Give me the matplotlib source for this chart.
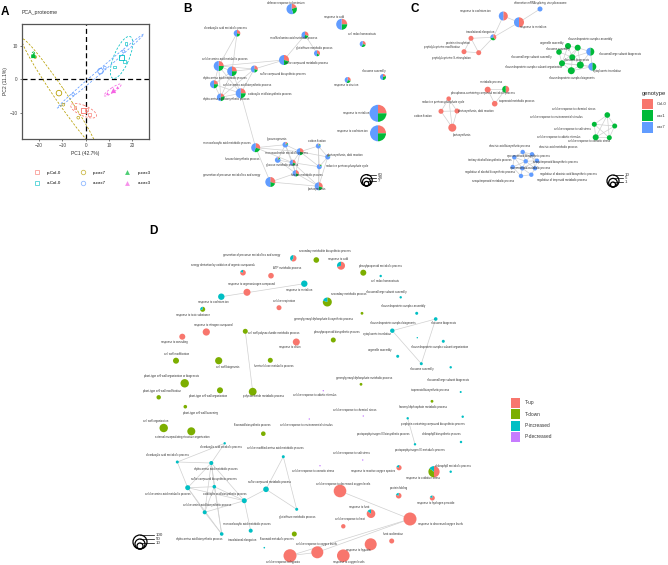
import numpy as np
import matplotlib
matplotlib.use("Agg")
import matplotlib.pyplot as plt
from matplotlib.patches import Wedge, Circle, Ellipse, Rectangle
from matplotlib.lines import Line2D

plt.rcParams["font.family"] = ["Liberation Sans", "DejaVu Sans"]

# ---------------- data ----------------
# Panel A: PCA scores (PC1, PC2) per sample group
pca_groups = ["p-Col-0", "a-Col-0", "p-cax7", "a-cax7", "p-cax3", "a-cax3"]
pca_pc1 = {
    "p-Col-0": [-4.6, 0.4, 1.5],
    "a-Col-0": [12.3, 16.5, 17.3],
    "p-cax7": [-21.7, -9.6, -3.2],
    "a-cax7": [-5.4, 8.2, 16.2],
    "p-cax3": [-22.6, -22.2, -22.9],
    "a-cax3": [9.3, 11.8, 13.6],
}
pca_pc2 = {
    "p-Col-0": [-8.5, -9.1, -10.6],
    "a-Col-0": [3.7, 5.3, 10.7],
    "p-cax7": [6.7, -7.6, -11.5],
    "a-cax7": [-4.5, 3.5, 8.4],
    "p-cax3": [7.6, 7.2, 7.4],
    "a-cax3": [-4.2, -3.2, -2.2],
}
pca_colors = {"p-Col-0": "#F8766D", "p-cax7": "#B79F00", "p-cax3": "#00BA38",
              "a-Col-0": "#00BFC4", "a-cax7": "#619CFF", "a-cax3": "#F564E3"}
pca_marker = {"p-Col-0": "s", "a-Col-0": "s", "p-cax7": "o", "a-cax7": "o",
              "p-cax3": "^", "a-cax3": "^"}
pca_xticks = [-20, -10, 0, 10, 20]
pca_yticks = [-10, 0, 10]

# Panel B network: name, x, y, size, (Col-0, cax1, cax7) fractions, label x, label y
geno_names = ["Col-0", "cax1", "cax7"]
geno_colors = ["#F8766D", "#00BA38", "#619CFF"]
B_nodes = [
    ("defense response to bacterium", 291.7, 9.0, 5.2, (.20, .25, .55), 285.7, 2.7),
    ("response to cold", 341.7, 24.3, 5.5, (.25, .25, .50), 333.7, 16.7),
    ("cell redox homeostasis", 362.7, 44.0, 3.0, (.30, .25, .45), 361.7, 34.3),
    ("dicarboxylic acid metabolic process", 237.0, 33.3, 3.3, (.30, .20, .50), 225.0, 28.3),
    ("modified amino acid metabolic process", 305.0, 35.0, 3.5, (.30, .20, .50), 293.3, 37.7),
    ("glutathione metabolic process", 317.0, 53.3, 3.0, (.35, .15, .50), 314.0, 48.3),
    ("sulfur compound metabolic process", 284.0, 60.0, 5.0, (.30, .20, .50), 306.7, 63.3),
    ("cellular amino acid metabolic process", 218.7, 66.0, 5.0, (.25, .25, .50), 225.0, 59.3),
    ("alpha-amino acid metabolic process", 232.0, 71.3, 4.8, (.25, .25, .50), 225.0, 77.7),
    ("sulfur compound biosynthetic process", 254.3, 69.0, 3.5, (.30, .20, .50), 283.3, 74.0),
    ("cellular amino acid biosynthetic process", 214.0, 84.3, 4.0, (.25, .25, .50), 246.7, 85.3),
    ("carboxylic acid biosynthetic process", 240.7, 93.3, 5.0, (.25, .25, .50), 270.0, 93.7),
    ("alpha-amino acid biosynthetic process", 220.7, 97.3, 3.8, (.20, .30, .50), 226.0, 98.7),
    ("response to zinc ion", 347.7, 80.0, 3.0, (.30, .25, .45), 345.7, 85.0),
    ("ribosome assembly", 383.0, 77.0, 3.0, (.20, .30, .50), 374.0, 70.7),
    ("response to metal ion", 378.0, 113.3, 8.5, (.25, .25, .50), 356.0, 112.7),
    ("response to cadmium ion", 378.0, 133.3, 8.0, (.25, .25, .50), 352.0, 131.3),
    ("monocarboxylic acid metabolic process", 255.7, 147.7, 4.5, (.30, .25, .45), 226.7, 143.3),
    ("gluconeogenesis", 285.3, 144.7, 2.8, (.15, .10, .75), 277.3, 139.0),
    ("carbon fixation", 318.3, 146.0, 2.5, (.10, .10, .80), 316.7, 140.7),
    ("monosaccharide metabolic process", 300.0, 151.7, 3.5, (.30, .20, .50), 286.7, 153.3),
    ("photosynthesis, dark reaction", 327.7, 157.0, 2.5, (.10, .10, .80), 345.0, 155.3),
    ("hexose biosynthetic process", 277.7, 160.0, 2.8, (.10, .10, .80), 241.7, 159.3),
    ("glucose metabolic process", 292.7, 162.7, 3.0, (.30, .20, .50), 281.7, 165.0),
    ("reductive pentose-phosphate cycle", 319.3, 166.7, 2.5, (.10, .10, .80), 346.7, 165.7),
    ("hexose metabolic process", 295.7, 173.3, 3.2, (.30, .20, .50), 306.7, 175.0),
    ("generation of precursor metabolites and energy", 270.3, 182.0, 5.0, (.30, .20, .50), 231.7, 175.0),
    ("photosynthesis", 318.7, 186.3, 4.0, (.30, .20, .50), 317.3, 189.3),
]
B_edges = [(3, 8), (3, 7), (4, 5), (4, 6), (6, 9), (6, 7), (7, 8), (7, 9), (7, 10), (7, 11),
           (7, 12), (8, 9), (8, 10), (8, 11), (8, 12), (9, 11), (10, 11), (10, 12), (11, 12),
           (9, 12), (11, 17), (17, 18), (17, 20), (17, 23), (17, 26), (18, 20), (18, 23),
           (18, 22), (18, 25), (19, 21), (19, 24), (19, 27), (20, 21), (20, 23), (20, 24),
           (20, 25), (21, 24), (21, 27), (22, 23), (22, 25), (23, 25), (23, 24), (25, 26),
           (25, 27), (26, 27), (24, 27), (23, 27), (19, 20)]
B_size_labels = ["60", "28", "7"]

# Panel C network
C_nodes = [
    ("alternative mRNA splicing, via spliceosome", 540.0, 9.0, 2.5, (0, 0, 1), 540.0, 3.3),
    ("response to cadmium ion", 503.3, 16.0, 4.5, (.5, 0, .5), 475.7, 11.0),
    ("response to metal ion", 519.0, 22.3, 5.0, (.5, 0, .5), 533.3, 26.7),
    ("translational elongation", 493.3, 37.3, 3.0, (.4, .3, .3), 480.0, 32.0),
    ("protein nitrosylation", 471.0, 38.3, 2.5, (1, 0, 0), 458.3, 42.7),
    ("peptidyl-cysteine modification", 464.0, 51.7, 2.5, (1, 0, 0), 441.7, 46.7),
    ("peptidyl-cysteine S-nitrosylation", 478.7, 52.7, 2.5, (1, 0, 0), 451.7, 58.3),
    ("ribonucleoprotein complex assembly", 577.7, 47.7, 3.0, (0, 1, 0), 590.0, 39.0),
    ("organelle assembly", 568.0, 46.0, 3.0, (0, 1, 0), 551.7, 42.7),
    ("ribosome assembly", 559.0, 52.0, 2.8, (0, 1, 0), 558.3, 49.3),
    ("ribosomal large subunit biogenesis", 590.3, 51.7, 4.0, (0, .5, .5), 620.0, 54.0),
    ("ribosomal large subunit assembly", 572.3, 57.3, 3.0, (0, 1, 0), 531.7, 56.7),
    ("ribosome biogenesis", 562.0, 63.3, 3.0, (0, 1, 0), 576.7, 60.0),
    ("ribonucleoprotein complex biogenesis", 580.3, 65.0, 3.5, (0, 1, 0), 571.7, 77.7),
    ("cytoplasmic translation", 592.3, 66.7, 4.0, (0, .5, .5), 606.7, 71.3),
    ("ribonucleoprotein complex subunit organization", 571.3, 70.7, 3.5, (0, 1, 0), 533.3, 66.7),
    ("metabolic process", 487.7, 89.7, 3.0, (1, 0, 0), 491.0, 81.7),
    ("phosphorus-containing compound metabolic process", 505.7, 89.3, 3.5, (.5, .5, 0), 483.3, 93.3),
    ("isoprenoid metabolic process", 494.7, 103.7, 2.8, (1, 0, 0), 516.7, 101.3),
    ("reductive pentose-phosphate cycle", 448.7, 98.7, 2.3, (1, 0, 0), 442.7, 102.3),
    ("carbon fixation", 441.0, 111.3, 2.5, (1, 0, 0), 423.3, 116.0),
    ("photosynthesis, dark reaction", 457.0, 111.0, 2.5, (1, 0, 0), 475.7, 111.0),
    ("photosynthesis", 452.3, 127.7, 4.0, (1, 0, 0), 462.3, 134.7),
    ("cellular response to chemical stress", 607.3, 115.0, 2.8, (0, 1, 0), 573.3, 108.7),
    ("cellular response to environmental stimulus", 594.3, 124.3, 2.5, (0, 1, 0), 556.7, 117.3),
    ("cellular response to salt stress", 614.7, 126.0, 2.5, (0, 1, 0), 572.7, 128.7),
    ("cellular response to abiotic stimulus", 595.7, 137.3, 3.0, (0, 1, 0), 558.3, 137.0),
    ("cellular response to osmotic stress", 609.3, 137.7, 2.5, (0, 1, 0), 589.3, 141.0),
    ("abscisic acid biosynthetic process", 522.7, 152.0, 2.2, (0, 0, 1), 509.3, 146.0),
    ("abscisic acid metabolic process", 532.0, 154.3, 2.2, (0, 0, 1), 558.3, 146.7),
    ("tertiary alcohol biosynthetic process", 514.3, 157.3, 2.2, (0, 0, 1), 490.0, 160.0),
    ("apocarotenoid biosynthetic process", 525.7, 161.3, 2.2, (0, 0, 1), 528.3, 156.0),
    ("sesquiterpenoid biosynthetic process", 537.0, 160.7, 2.2, (0, 0, 1), 555.0, 162.3),
    ("regulation of alcohol biosynthetic process", 512.7, 167.0, 2.2, (0, 0, 1), 490.0, 171.7),
    ("apocarotenoid metabolic process", 522.3, 168.3, 2.2, (0, 0, 1), 530.0, 167.7),
    ("regulation of abscisic acid biosynthetic process", 535.0, 168.3, 2.2, (0, 0, 1), 568.3, 174.0),
    ("sesquiterpenoid metabolic process", 521.0, 176.0, 2.2, (0, 0, 1), 493.3, 181.0),
    ("regulation of terpenoid metabolic process", 531.3, 174.7, 2.2, (0, 0, 1), 561.7, 180.0),
]
C_edges = [(0, 2), (1, 2), (1, 3), (2, 3), (3, 4), (3, 6), (4, 5), (4, 6), (5, 6),
           (7, 8), (7, 10), (7, 11), (7, 12), (7, 13), (8, 9), (8, 11), (8, 12), (9, 11),
           (9, 12), (10, 11), (10, 13), (10, 14), (11, 12), (11, 13), (11, 15), (12, 13),
           (12, 15), (13, 14), (13, 15), (14, 15), (12, 14),
           (16, 17), (16, 18), (17, 18), (19, 20), (19, 21), (19, 22), (20, 21), (20, 22), (21, 22),
           (23, 24), (23, 25), (23, 26), (23, 27), (24, 25), (24, 26), (24, 27), (25, 26),
           (25, 27), (26, 27),
           (28, 29), (28, 30), (28, 31), (28, 32), (29, 31), (29, 32), (30, 31), (30, 33),
           (30, 34), (31, 32), (31, 34), (31, 35), (32, 35), (33, 34), (33, 36), (34, 35),
           (34, 36), (34, 37), (35, 37), (36, 37), (31, 33), (32, 34), (29, 35)]
C_size_labels = ["10", "5", "1"]

# Panel D network: fractions (T-up, T-down, P-increased, P-decreased)
reg_names = ["T-up", "T-down", "P-increased", "P-decreased"]
reg_colors = ["#F8766D", "#7CAE00", "#00BFC4", "#C77CFF"]
UP, DN, INC, DEC = (1, 0, 0, 0), (0, 1, 0, 0), (0, 0, 1, 0), (0, 0, 0, 1)
D_nodes = [
    ("energy derivation by oxidation of organic compounds", 243.0, 272.7, 2.8, (.8, 0, .2, 0), 223.3, 265.0),
    ("ATP metabolic process", 271.0, 275.7, 2.8, UP, 286.7, 267.7),
    ("generation of precursor metabolites and energy", 293.3, 258.3, 3.2, (.6, 0, .4, 0), 251.7, 255.0),
    ("secondary metabolite biosynthetic process", 316.3, 260.0, 2.8, DN, 325.0, 251.0),
    ("response to cold", 341.0, 265.7, 4.0, (.7, 0, .3, 0), 338.3, 259.0),
    ("response to organonitrogen compound", 247.0, 292.3, 3.5, UP, 251.7, 284.3),
    ("response to cadmium ion", 221.3, 296.7, 3.2, INC, 213.3, 302.3),
    ("response to metal ion", 304.3, 283.7, 3.2, INC, 299.3, 290.0),
    ("response to toxic substance", 202.7, 309.3, 2.5, (0, .7, .3, 0), 193.3, 315.0),
    ("cellular respiration", 279.0, 307.7, 2.5, UP, 284.0, 301.0),
    ("response to nitrogen compound", 206.3, 332.0, 3.6, UP, 213.3, 324.7),
    ("response to wounding", 182.3, 336.7, 3.0, UP, 174.0, 342.3),
    ("response to chitin", 296.3, 342.0, 3.5, UP, 290.0, 347.3),
    ("cell wall polysaccharide metabolic process", 245.3, 331.3, 2.5, DN, 273.3, 333.3),
    ("cell wall modification", 176.0, 360.7, 3.0, DN, 176.7, 353.7),
    ("cell wall biogenesis", 218.7, 360.7, 3.6, DN, 227.7, 367.0),
    ("hemicellulose metabolic process", 270.3, 360.3, 2.5, DN, 273.3, 366.3),
    ("plant-type cell wall organization or biogenesis", 184.7, 383.3, 4.2, DN, 171.7, 376.0),
    ("plant-type cell wall modification", 158.7, 397.3, 2.2, DN, 161.7, 390.7),
    ("plant-type cell wall organization", 220.0, 390.3, 3.0, DN, 208.3, 396.0),
    ("polysaccharide metabolic process", 252.7, 391.7, 3.9, DN, 263.3, 396.0),
    ("plant-type cell wall loosening", 185.3, 406.7, 1.8, DN, 200.0, 412.7),
    ("cell wall organization", 163.7, 428.0, 4.2, DN, 156.0, 420.7),
    ("external encapsulating structure organization", 191.3, 431.3, 4.0, DN, 182.7, 437.0),
    ("flavonoid biosynthetic process", 263.3, 433.7, 2.3, DN, 252.7, 425.0),
    ("secondary metabolic process", 327.3, 302.0, 4.5, (0, .8, .2, 0), 348.3, 294.3),
    ("phenylpropanoid metabolic process", 363.3, 272.7, 3.0, DN, 380.0, 266.0),
    ("phenylpropanoid biosynthetic process", 333.3, 340.0, 2.5, DN, 337.3, 332.0),
    ("geranylgeranyl diphosphate biosynthetic process", 362.0, 313.3, 1.4, DN, 323.3, 319.3),
    ("geranylgeranyl diphosphate metabolic process", 361.0, 384.3, 1.4, DN, 364.3, 377.7),
    ("farnesyl diphosphate metabolic process", 432.0, 401.3, 1.4, DN, 423.3, 406.7),
    ("flavonoid metabolic process", 294.3, 534.0, 2.5, DN, 276.7, 539.3),
    ("cell redox homeostasis", 380.7, 276.0, 1.2, INC, 385.0, 281.0),
    ("ribosomal large subunit assembly", 400.7, 297.3, 1.2, INC, 386.7, 291.7),
    ("ribonucleoprotein complex assembly", 416.7, 313.3, 1.5, INC, 403.3, 306.0),
    ("ribosome biogenesis", 435.7, 319.0, 1.8, INC, 443.3, 323.0),
    ("cytoplasmic translation", 392.3, 330.7, 2.2, INC, 376.7, 333.7),
    ("ribonucleoprotein complex biogenesis", 417.3, 337.7, 0.7, INC, 393.3, 322.7),
    ("ribonucleoprotein complex subunit organization", 443.3, 341.3, 1.5, INC, 440.0, 347.3),
    ("organelle assembly", 397.7, 356.3, 1.5, INC, 380.0, 350.0),
    ("ribosome assembly", 421.3, 363.7, 1.5, INC, 421.7, 369.0),
    ("ribosomal large subunit biogenesis", 450.7, 367.3, 1.2, INC, 448.3, 379.7),
    ("isoprenoid biosynthetic process", 460.7, 392.0, 1.0, INC, 430.0, 389.7),
    ("cellular response to abiotic stimulus", 323.3, 390.7, 0.7, DEC, 315.0, 395.3),
    ("cellular response to chemical stress", 363.3, 416.0, 0.7, DEC, 355.0, 410.0),
    ("cellular response to environmental stimulus", 309.3, 419.0, 0.7, DEC, 306.7, 425.0),
    ("cellular response to osmotic stress", 320.0, 465.7, 0.7, DEC, 312.7, 471.0),
    ("cellular response to salt stress", 362.7, 460.0, 0.7, DEC, 351.7, 452.7),
    ("porphyrin-containing compound biosynthetic process", 407.7, 418.3, 1.2, INC, 433.3, 424.0),
    ("protoporphyrinogen IX metabolic process", 415.0, 444.3, 1.2, INC, 420.0, 450.0),
    ("protoporphyrinogen IX biosynthetic process", 462.7, 416.7, 1.2, INC, 383.3, 434.0),
    ("chlorophyll biosynthetic process", 461.0, 442.0, 1.2, INC, 441.7, 434.0),
    ("dicarboxylic acid catabolic process", 224.7, 443.3, 1.2, INC, 221.0, 447.3),
    ("dicarboxylic acid metabolic process", 177.3, 462.0, 1.5, INC, 167.3, 455.0),
    ("alpha-amino acid metabolic process", 211.3, 463.0, 2.0, INC, 215.7, 469.3),
    ("cellular amino acid metabolic process", 187.7, 487.7, 2.5, INC, 167.7, 493.7),
    ("carboxylic acid biosynthetic process", 214.3, 486.7, 1.8, INC, 224.7, 493.7),
    ("sulfur compound biosynthetic process", 244.3, 500.7, 2.5, INC, 214.0, 479.3),
    ("sulfur compound metabolic process", 266.0, 489.3, 2.8, INC, 270.0, 481.7),
    ("cellular modified amino acid metabolic process", 283.3, 456.7, 1.5, INC, 275.0, 448.3),
    ("cellular amino acid biosynthetic process", 204.7, 512.3, 2.0, INC, 207.3, 505.3),
    ("alpha-amino acid biosynthetic process", 221.7, 534.0, 1.8, INC, 199.0, 539.3),
    ("monocarboxylic acid metabolic process", 250.7, 530.7, 2.0, INC, 247.3, 524.0),
    ("translational elongation", 264.3, 547.7, 0.8, INC, 242.0, 540.0),
    ("glutathione metabolic process", 296.7, 509.3, 1.5, INC, 296.7, 516.7),
    ("response to reactive oxygen species", 399.0, 467.7, 2.6, (.8, 0, .2, 0), 373.3, 471.0),
    ("response to oxidative stress", 434.0, 471.7, 5.6, (.5, .35, .15, 0), 422.7, 478.3),
    ("chlorophyll metabolic process", 450.7, 471.7, 1.2, INC, 453.3, 465.7),
    ("cellular response to decreased oxygen levels", 340.0, 491.0, 6.3, UP, 343.3, 484.3),
    ("protein folding", 398.7, 495.7, 2.8, (.8, 0, .2, 0), 399.0, 488.0),
    ("response to hydrogen peroxide", 432.3, 498.0, 2.5, (.8, 0, .2, 0), 436.0, 503.3),
    ("response to heat", 371.0, 513.7, 4.3, (.85, 0, .15, 0), 359.0, 506.7),
    ("response to decreased oxygen levels", 410.0, 519.0, 6.5, UP, 440.0, 523.7),
    ("cellular response to heat", 343.3, 526.3, 2.2, UP, 350.0, 519.3),
    ("heat acclimation", 391.7, 541.0, 2.5, UP, 392.7, 534.0),
    ("cellular response to oxygen levels", 317.3, 552.3, 6.0, UP, 316.7, 544.3),
    ("response to hypoxia", 370.7, 544.3, 6.0, UP, 357.7, 550.3),
    ("cellular response to hypoxia", 290.0, 555.7, 6.5, UP, 283.0, 562.0),
    ("response to oxygen levels", 343.3, 555.7, 6.3, UP, 348.3, 562.3),
]
D_edges = [
    ("response to cadmium ion", "response to metal ion"),
    ("cell wall polysaccharide metabolic process", "polysaccharide metabolic process"),
    ("cytoplasmic translation", "ribosome biogenesis"),
    ("ribosome biogenesis", "ribosome assembly"),
    ("cytoplasmic translation", "ribosome assembly"),
    ("porphyrin-containing compound biosynthetic process", "protoporphyrinogen IX metabolic process"),
    ("dicarboxylic acid metabolic process", "alpha-amino acid metabolic process"),
    ("dicarboxylic acid metabolic process", "dicarboxylic acid catabolic process"),
    ("dicarboxylic acid metabolic process", "cellular amino acid metabolic process"),
    ("alpha-amino acid metabolic process", "dicarboxylic acid catabolic process"),
    ("alpha-amino acid metabolic process", "cellular amino acid metabolic process"),
    ("alpha-amino acid metabolic process", "carboxylic acid biosynthetic process"),
    ("alpha-amino acid metabolic process", "cellular amino acid biosynthetic process"),
    ("alpha-amino acid metabolic process", "sulfur compound biosynthetic process"),
    ("alpha-amino acid metabolic process", "alpha-amino acid biosynthetic process"),
    ("cellular amino acid metabolic process", "carboxylic acid biosynthetic process"),
    ("cellular amino acid metabolic process", "cellular amino acid biosynthetic process"),
    ("cellular amino acid metabolic process", "sulfur compound biosynthetic process"),
    ("cellular amino acid metabolic process", "alpha-amino acid biosynthetic process"),
    ("carboxylic acid biosynthetic process", "sulfur compound biosynthetic process"),
    ("carboxylic acid biosynthetic process", "cellular amino acid biosynthetic process"),
    ("carboxylic acid biosynthetic process", "alpha-amino acid biosynthetic process"),
    ("cellular amino acid biosynthetic process", "alpha-amino acid biosynthetic process"),
    ("sulfur compound biosynthetic process", "sulfur compound metabolic process"),
    ("sulfur compound biosynthetic process", "monocarboxylic acid metabolic process"),
    ("sulfur compound biosynthetic process", "cellular amino acid biosynthetic process"),
    ("sulfur compound metabolic process", "cellular modified amino acid metabolic process"),
    ("sulfur compound metabolic process", "glutathione metabolic process"),
    ("cellular modified amino acid metabolic process", "glutathione metabolic process"),
    ("cellular response to decreased oxygen levels", "response to decreased oxygen levels"),
    ("response to decreased oxygen levels", "cellular response to oxygen levels"),
    ("response to decreased oxygen levels", "cellular response to hypoxia"),
    ("cellular response to hypoxia", "cellular response to oxygen levels"),
]
D_size_labels = ["100", "50", "10"]

# ---------------- drawing ----------------
W, H = 668, 565
fig = plt.figure(figsize=(6.68, 5.65), dpi=100)
fig.patch.set_facecolor("white")
net = fig.add_axes([0, 0, 1, 1])
net.set_xlim(0, W)
net.set_ylim(H, 0)
net.axis("off")

LBL = 2.0
EDGE = "#d0d0d0"


def pie(ax, x, y, r, fracs, colors):
    tot = float(sum(fracs))
    start = 270.0
    for f, c in zip(fracs, colors):
        if f <= 0:
            continue
        ang = 360.0 * f / tot
        if ang >= 359.9:
            ax.add_patch(Circle((x, y), r, facecolor=c, edgecolor="none", zorder=3))
        else:
            ax.add_patch(Wedge((x, y), r, start, start + ang, facecolor=c,
                               edgecolor="none", zorder=3))
        start += ang


def draw_network(ax, nodes, edges, colors, by_name=False):
    idx = {n[0]: i for i, n in enumerate(nodes)}
    for a, b in edges:
        ia, ib = (idx[a], idx[b]) if by_name else (a, b)
        ax.plot([nodes[ia][1], nodes[ib][1]], [nodes[ia][2], nodes[ib][2]],
                color=EDGE, lw=0.5, zorder=1, solid_capstyle="round")
    for name, x, y, r, fr, lx, ly in nodes:
        pie(ax, x, y, r, fr, colors)
        ax.text(lx, ly, name, fontsize=LBL, ha="center", va="center",
                color="#333333", zorder=4)


def size_legend(ax, cx, bottom, radii, labels, lx):
    for r, lab in zip(radii, labels):
        ax.add_patch(Circle((cx, bottom - r), r, facecolor="none", edgecolor="black",
                            lw=0.9, zorder=3))
        top = bottom - 2 * r
        ax.plot([cx, lx - 2], [top, top], color="black", lw=0.5, zorder=3)
        ax.text(lx, top, lab, fontsize=3.2, ha="left", va="center", color="#333333")


draw_network(net, B_nodes, B_edges, geno_colors)
draw_network(net, C_nodes, C_edges, geno_colors)
draw_network(net, D_nodes, D_edges, reg_colors, by_name=True)

size_legend(net, 366.5, 186.0, [5.7, 4.0, 2.3], B_size_labels, 378)
size_legend(net, 613.0, 187.0, [6.0, 4.3, 2.5], C_size_labels, 625)
size_legend(net, 140.0, 549.0, [7.0, 5.0, 3.0], D_size_labels, 156)

# genotype legend (panel C)
net.text(641.5, 93.3, "genotype", fontsize=4.2, ha="left", va="center", color="#222222")
for i, (g, c) in enumerate(zip(geno_names, geno_colors)):
    yc = 104.0 + 11.7 * i
    net.add_patch(Rectangle((641.5, yc - 5.3), 11, 10.6, facecolor=c, edgecolor="none"))
    net.text(656.5, yc, g, fontsize=3.0, ha="left", va="center", color="#333333")

# regulation legend (panel D)
for i, (g, c) in enumerate(zip(reg_names, reg_colors)):
    yc = 402.5 + 11.5 * i
    net.add_patch(Rectangle((510.5, yc - 5.0), 9.5, 10.0, facecolor=c, edgecolor="none"))
    net.text(525.0, yc, g, fontsize=3.4, ha="left", va="center", color="#333333")

# panel letters
for letter, (px, py) in {"A": (5, 12), "B": (188, 9), "C": (415, 9), "D": (153, 231)}.items():
    net.text(px, py, letter, fontsize=8.5, fontweight="bold", ha="center", va="center")
net.text(22, 12.5, "PCA_proteome", fontsize=3.8, ha="left", va="center", color="#333333")

# ---------------- Panel A ----------------
axA = fig.add_axes([21.7 / W, 1 - 139.0 / H, (149.3 - 21.7) / W, (139.0 - 24.0) / H])
axA.set_xlim(-27.5, 27.3)
axA.set_ylim(-17.9, 16.6)
axA.axvline(0, color="black", lw=0.9, ls=(0, (4, 2.5)), zorder=1)
axA.axhline(0, color="black", lw=0.9, ls=(0, (4, 2.5)), zorder=1)
for g in pca_groups:
    xs = np.array(pca_pc1[g])
    ys = np.array(pca_pc2[g])
    c = pca_colors[g]
    m = pca_marker[g]
    filled = m == "^"
    cov = np.cov(xs, ys)
    vals, vecs = np.linalg.eigh(cov)
    order = vals.argsort()[::-1]
    vals, vecs = vals[order], vecs[:, order]
    ang = np.degrees(np.arctan2(vecs[1, 0], vecs[0, 0]))
    k = 1.7
    wdt = 2 * k * np.sqrt(max(vals[0], 0))
    hgt = 2 * k * np.sqrt(max(vals[1], 0)) + 1.2
    axA.add_patch(Ellipse((xs.mean(), ys.mean()), wdt, hgt, angle=ang, fill=False,
                          edgecolor=c, lw=0.55, ls=(0, (3, 2)), zorder=2))
    if filled:
        axA.scatter(xs, ys, s=4, marker=m, color=c, zorder=3, linewidths=0)
        axA.scatter([xs.mean()], [ys.mean()], s=14, marker=m, color=c, zorder=3, linewidths=0)
    else:
        axA.scatter(xs, ys, s=4, marker=m, facecolors="none", edgecolors=c,
                    linewidths=0.45, zorder=3)
        axA.scatter([xs.mean()], [ys.mean()], s=16, marker=m, facecolors="none",
                    edgecolors=c, linewidths=0.6, zorder=3)
axA.set_xticks(pca_xticks)
axA.set_yticks(pca_yticks)
axA.tick_params(labelsize=3.4, length=1.5, width=0.5, pad=1.5, colors="#444444")
for s in axA.spines.values():
    s.set_color("#555555")
    s.set_linewidth(0.9)
axA.set_xlabel("PC1 (42.7%)", fontsize=3.6, labelpad=2, color="#333333")
axA.set_ylabel("PC2 (11.1%)", fontsize=3.6, labelpad=1, color="#333333")

handles = []
for g in ["p-Col-0", "a-Col-0", "p-cax7", "a-cax7", "p-cax3", "a-cax3"]:
    m = pca_marker[g]
    c = pca_colors[g]
    if m == "^":
        h = Line2D([], [], ls="none", marker=m, markersize=3.5, color=c,
                   markeredgewidth=0, alpha=0.7)
    else:
        h = Line2D([], [], ls="none", marker=m, markersize=3.2, markerfacecolor="none",
                   markeredgecolor=c, markeredgewidth=0.6, alpha=0.7)
    handles.append(h)
leg = fig.legend(handles, ["p-Col-0", "a-Col-0", "p-cax7", "a-cax7", "p-cax3", "a-cax3"],
                 loc="upper left", bbox_to_anchor=(34.5 / W, 1 - 170.5 / H), ncol=3,
                 fontsize=3.2, frameon=False, columnspacing=4.3, handletextpad=1.8,
                 labelspacing=1.5, handlelength=1.0, borderpad=0, borderaxespad=0)

fig.savefig("out.png", dpi=100, facecolor="white")
